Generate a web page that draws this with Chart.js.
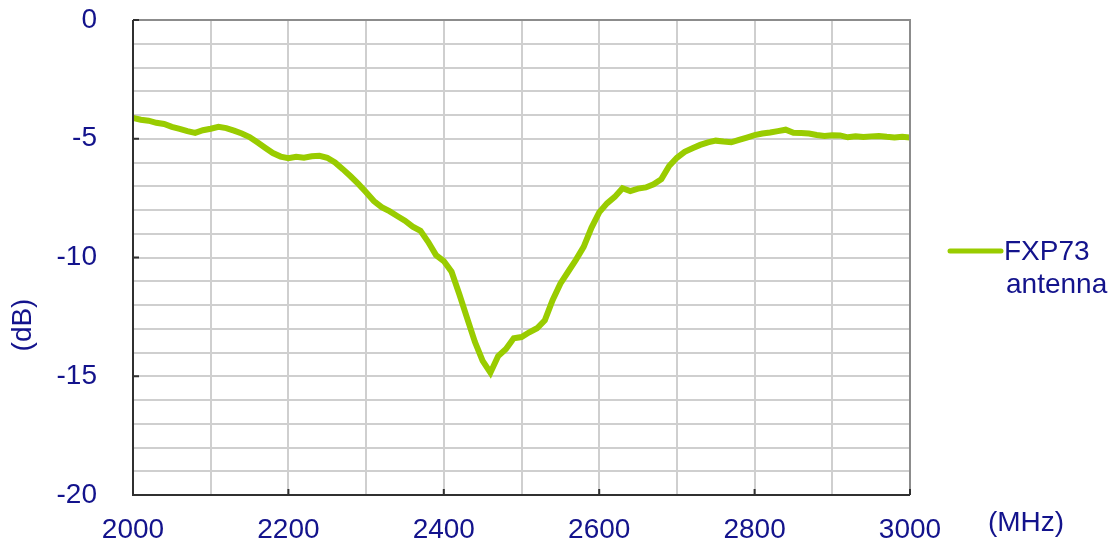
<!DOCTYPE html>
<html>
<head>
<meta charset="utf-8">
<script src="https://cdn.jsdelivr.net/npm/chart.js@4"></script>
<style>
  html, body { margin: 0; padding: 0; background: #fff; }
  #wrap { width: 1115px; height: 542px; }
</style>
</head>
<body>
<div id="wrap"><canvas id="chart" width="1115" height="542"></canvas></div>
<script>
// frequency axis (MHz), one reading every 10 MHz
var freqs = [];
for (var f = 2000; f <= 3000; f += 10) freqs.push(f);

// return loss (dB)
var lossFXP73 = [
  -4.12, -4.20, -4.24, -4.33, -4.38, -4.50, -4.58, -4.68, -4.75, -4.64,
  -4.58, -4.50, -4.55, -4.66, -4.78, -4.93, -5.15, -5.38, -5.60, -5.75,
  -5.82, -5.76, -5.80, -5.74, -5.72, -5.80, -6.00, -6.28, -6.58, -6.90,
  -7.25, -7.62, -7.88, -8.05, -8.25, -8.45, -8.70, -8.88, -9.35, -9.90,
  -10.15, -10.60, -11.55, -12.55, -13.55, -14.35, -14.85, -14.15, -13.85, -13.40,
  -13.35, -13.15, -12.98, -12.65, -11.80, -11.10, -10.60, -10.10, -9.55, -8.75,
  -8.10, -7.72, -7.45, -7.08, -7.20, -7.10, -7.05, -6.92, -6.70, -6.15,
  -5.80, -5.55, -5.40, -5.26, -5.15, -5.08, -5.12, -5.15, -5.05, -4.95,
  -4.85, -4.78, -4.74, -4.68, -4.62, -4.75, -4.76, -4.78, -4.84, -4.88,
  -4.85, -4.86, -4.94, -4.90, -4.93, -4.90, -4.88, -4.92, -4.95, -4.92,
  -4.95
];

var xLabels = [2000, 2200, 2400, 2600, 2800, 3000];
var yLabels = [0, -5, -10, -15, -20];
var seriesName = ["FXP73", "antenna"];

var TEXT = "#13138c";
var FONT = "Liberation Sans, Arial, sans-serif";

// frame, inner tick marks, legend and unit labels
var extras = {
  id: "extras",
  afterDraw: function (chart) {
    var ctx = chart.ctx, a = chart.chartArea;
    var xs = chart.scales.x, ys = chart.scales.y;
    ctx.save();
    ctx.lineWidth = 2;
    ctx.strokeStyle = "#8c8c8c";
    ctx.beginPath();
    ctx.moveTo(a.left, a.top); ctx.lineTo(a.right, a.top); ctx.lineTo(a.right, a.bottom);
    ctx.stroke();
    ctx.strokeStyle = "#303030";
    ctx.beginPath();
    ctx.moveTo(a.left, a.top); ctx.lineTo(a.left, a.bottom); ctx.lineTo(a.right, a.bottom);
    ctx.stroke();
    // short inward ticks at labelled values
    yLabels.forEach(function (v) {
      var y = ys.getPixelForValue(v);
      ctx.beginPath(); ctx.moveTo(a.left, y); ctx.lineTo(a.left + 6, y); ctx.stroke();
    });
    xLabels.forEach(function (v) {
      var x = xs.getPixelForValue(v);
      ctx.beginPath(); ctx.moveTo(x, a.bottom); ctx.lineTo(x, a.bottom - 6); ctx.stroke();
    });

    // legend
    var ds = chart.data.datasets[0];
    ctx.strokeStyle = ds.borderColor;
    ctx.lineWidth = 5;
    ctx.lineCap = "round";
    ctx.beginPath(); ctx.moveTo(950, 251); ctx.lineTo(1001, 251); ctx.stroke();
    ctx.fillStyle = TEXT;
    ctx.font = "28px " + FONT;
    ctx.textAlign = "left";
    ctx.textBaseline = "alphabetic";
    ctx.fillText(seriesName[0], 1004, 260);
    ctx.fillText(seriesName[1], 1006, 293);

    // units
    ctx.textAlign = "center";
    ctx.textBaseline = "middle";
    ctx.fillText("(MHz)", 1026, 523);
    ctx.translate(23, 325);
    ctx.rotate(-Math.PI / 2);
    ctx.fillText("(dB)", 0, 0);
    ctx.restore();
  }
};

new Chart(document.getElementById("chart"), {
  type: "line",
  data: {
    labels: freqs,
    datasets: [{
      label: seriesName.join(" "),
      data: freqs.map(function (f, i) { return { x: f, y: lossFXP73[i] }; }),
      borderColor: "#99cc00",
      borderWidth: 6,
      pointRadius: 0,
      tension: 0,
      fill: false
    }]
  },
  options: {
    responsive: false,
    animation: false,
    layout: { padding: { top: 20, right: 205, left: 0, bottom: 0 } },
    plugins: { legend: { display: false }, tooltip: { enabled: false } },
    scales: {
      x: {
        type: "linear",
        min: 2000, max: 3000,
        afterFit: function (s) { s.height = 47; },
        grid: { color: "#cfcfcf", lineWidth: 2, drawTicks: false },
        border: { display: false },
        ticks: {
          stepSize: 100,
          autoSkip: false,
          maxRotation: 0,
          padding: 18,
          color: TEXT,
          font: { family: FONT, size: 28 },
          callback: function (v) { return xLabels.indexOf(v) >= 0 ? String(v) : ""; }
        }
      },
      y: {
        min: -20, max: 0,
        // tick padding would otherwise push the plot down from the top
        afterFit: function (s) { s.width = 133; s.paddingTop = 0; s.paddingBottom = 0; },
        grid: { color: "#cfcfcf", lineWidth: 2, drawTicks: false },
        border: { display: false },
        ticks: {
          stepSize: 1,
          autoSkip: false,
          padding: 36,
          color: TEXT,
          font: { family: FONT, size: 28 },
          callback: function (v) { return yLabels.indexOf(v) >= 0 ? String(v) : ""; }
        }
      }
    }
  },
  plugins: [extras]
});
</script>
</body>
</html>
